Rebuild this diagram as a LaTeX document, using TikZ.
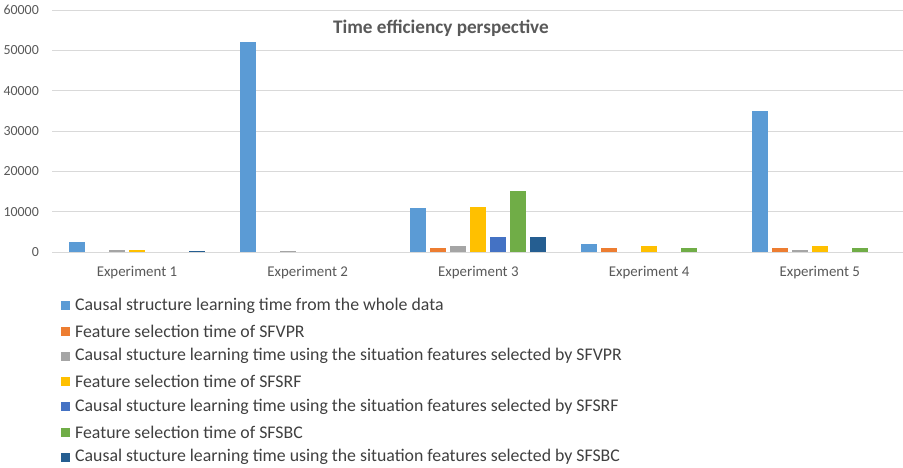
\documentclass[tikz,border=0pt]{standalone}
\usepackage{fontspec}
\setmainfont{Carlito}
\definecolor{sA}{HTML}{5B9BD5}
\definecolor{sB}{HTML}{ED7D31}
\definecolor{sC}{HTML}{A5A5A5}
\definecolor{sD}{HTML}{FFC000}
\definecolor{sE}{HTML}{4472C4}
\definecolor{sF}{HTML}{70AD47}
\definecolor{sG}{HTML}{255E91}
\definecolor{gridc}{HTML}{D9D9D9}
\definecolor{axtxt}{HTML}{595959}
\definecolor{legtxt}{HTML}{404040}
\begin{document}
\begin{tikzpicture}[x=1pt,y=-1pt,
  gridline/.style={draw=gridc,line width=0.75pt},
  ticklabel/.style={anchor=east,text=axtxt,font=\fontsize{13.9}{15}\selectfont,inner sep=0pt},
  catlabel/.style={anchor=center,text=axtxt,font=\fontsize{14.9}{17}\selectfont,inner sep=0pt},
  legsq/.style={minimum size=9pt,inner sep=0pt,draw=none},
  legtext/.style={anchor=west,text=legtxt,font=\fontsize{17.8}{20}\selectfont,inner sep=0pt},
  titlestyle/.style={text=axtxt,font=\fontsize{19.2}{22}\bfseries\selectfont,inner sep=0pt}]
\useasboundingbox[fill=white] (0,0) rectangle (903,468);
% grid
\foreach \v/\y in {60000/10,50000/50.3,40000/90.7,30000/131,20000/171.3,10000/211.7}{
  \draw[gridline] (52,\y) -- (903,\y);
  \node[ticklabel] (t\v) at (39,\y) {\v};
}
\node[ticklabel] (t0) at (39,252) {0};
% bars (values in hundreds)
\newcommand{\bargroup}[2]{%
  \foreach \val [count=\s from 0] in {#2}{
    \pgfmathsetmacro{\xl}{69+170.7*#1+20*\s}
    \pgfmathsetmacro{\yt}{252-\val*0.40333}
    \ifnum\s=0 \def\cc{sA}\fi
    \ifnum\s=1 \def\cc{sB}\fi
    \ifnum\s=2 \def\cc{sC}\fi
    \ifnum\s=3 \def\cc{sD}\fi
    \ifnum\s=4 \def\cc{sE}\fi
    \ifnum\s=5 \def\cc{sF}\fi
    \ifnum\s=6 \def\cc{sG}\fi
    \fill[\cc] (\xl,\yt) rectangle ({\xl+16},252);
  }}
\bargroup{0}{25,0,6,5,0,0,2.5}
\bargroup{1}{520,0,2.5,0,0,0,0}
\bargroup{2}{108,9,15,112,37,150,37}
\bargroup{3}{21,9,0,16,0,10,0}
\bargroup{4}{350,11,6,16,0,10,0}
\draw[draw=gridc,line width=1pt] (52,252) -- (903,252);
% category labels
\foreach \i in {1,...,5}{
  \node[catlabel] (c\i) at ({137+170.7*(\i-1)},272.5) {Experiment \i};
}
% title
\node[titlestyle] (title) at (441,28.5) {Time efficiency perspective};
% legend
\node[legsq,fill=sA] (q1) at (65.5,305.5) {};
\node[legtext] (l1) at (75,305.5) {Causal structure learning time from the whole data};
\node[legsq,fill=sB] (q2) at (65.5,331) {};
\node[legtext] (l2) at (75,331) {Feature selection time of SFVPR};
\node[legsq,fill=sC] (q3) at (65.5,356.2) {};
\node[legtext] (l3) at (75,356.2) {Causal stucture learning time using the situation features selected by SFVPR};
\node[legsq,fill=sD] (q4) at (65.5,381.5) {};
\node[legtext] (l4) at (75,381.5) {Feature selection time of SFSRF};
\node[legsq,fill=sE] (q5) at (65.5,406.7) {};
\node[legtext] (l5) at (75,406.7) {Causal stucture learning time using the situation features selected by SFSRF};
\node[legsq,fill=sF] (q6) at (65.5,432) {};
\node[legtext] (l6) at (75,432) {Feature selection time of SFSBC};
\node[legsq,fill=sG] (q7) at (65.5,457.2) {};
\node[legtext] (l7) at (75,457.2) {Causal stucture learning time using the situation features selected by SFSBC};
\end{tikzpicture}
\end{document}
